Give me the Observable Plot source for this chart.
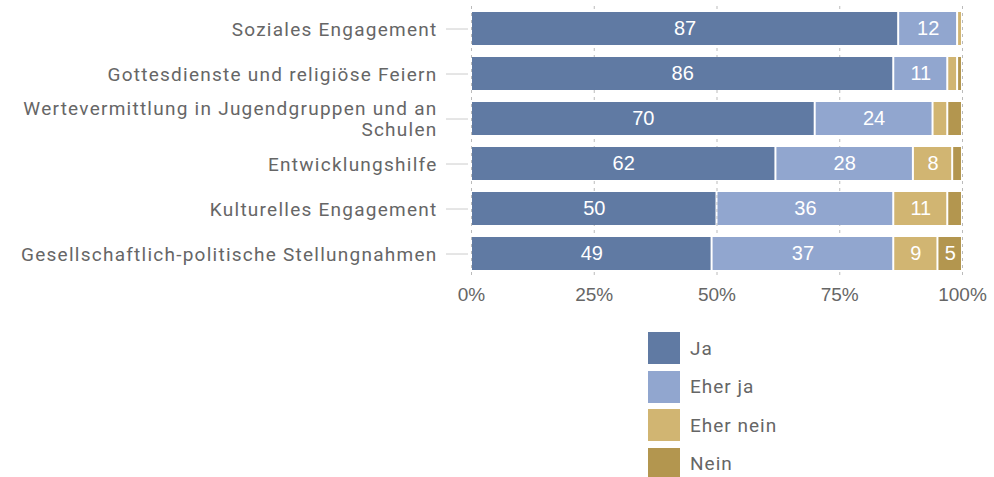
<!DOCTYPE html>
<html>
<head>
<meta charset="utf-8">
<script src="https://cdn.jsdelivr.net/npm/d3@7"></script>
<script src="https://cdn.jsdelivr.net/npm/@observablehq/plot@0.6"></script>
<style>
  body { margin: 0; background: #fff; font-family: Roboto, "Noto Sans", sans-serif; }
  #legend { margin-left: 648px; margin-top: 12px; display: grid; row-gap: 6.5px; }
  .item { display: flex; align-items: center; height: 32px; }
  .sw { width: 32px; height: 32px; margin-right: 10px; }
  .lbl { font-size: 19px; color: #666; letter-spacing: 1px; font-family: Roboto, sans-serif; }
  .c g[aria-label="y-axis tick label"] text { letter-spacing: 1.25px; }
</style>
</head>
<body>
<div id="chart"></div>
<div id="legend"></div>
<script>
const categories = [
  "Soziales Engagement",
  "Gottesdienste und religiöse Feiern",
  "Wertevermittlung in Jugendgruppen und an Schulen",
  "Entwicklungshilfe",
  "Kulturelles Engagement",
  "Gesellschaftlich-politische Stellungnahmen"
];
const seriesNames = ["Ja", "Eher ja", "Eher nein", "Nein"];
const ja       = [87, 86, 70, 62, 50, 49];
const eherJa   = [12, 11, 24, 28, 36, 37];
const eherNein = [1, 2, 3, 8, 11, 9];
const nein     = [0, 1, 3, 2, 3, 5];
const colors = ["#607aa3", "#91a6cf", "#d1b572", "#b3964f"];
const xTicks = [0, 25, 50, 75, 100];

const seriesValues = [ja, eherJa, eherNein, nein];
const data = [];
categories.forEach((c, i) => {
  seriesNames.forEach((s, j) => data.push({cat: c, series: s, value: seriesValues[j][i]}));
});

const labelMap = new Map([[categories[2], "Wertevermittlung in Jugendgruppen und an\nSchulen"]]);
const numFont = "'Liberation Sans', Arial, sans-serif";

const chart = Plot.plot({
  className: "c",
  width: 994,
  height: 320,
  marginLeft: 471,
  marginRight: 32,
  marginTop: 6,
  marginBottom: 44,
  style: {fontFamily: "Roboto, 'Noto Sans', sans-serif", fontSize: "19px", color: "#666"},
  x: {domain: [0, 100]},
  y: {domain: categories, paddingInner: 0.27, paddingOuter: 0.135, label: null},
  color: {domain: seriesNames, range: colors},
  marks: [
    Plot.gridX(xTicks, {stroke: "#bbb", strokeOpacity: 1, strokeDasharray: "3,4"}),
    Plot.barX(data, Plot.stackX({
      x: "value", y: "cat", fill: "series", order: seriesNames,
      insetLeft: 1, insetRight: 1
    })),
    Plot.text(data, Plot.stackX({
      x: "value", y: "cat", z: "series", order: seriesNames,
      text: d => d.value >= 5 ? String(d.value) : "",
      fill: "white", fontSize: 20, fontFamily: numFont
    })),
    Plot.axisY({
      tickSize: 22, tickPadding: 9, dx: -3, stroke: "#ccc", label: null,
      fill: "#666", fontSize: 19, tickFormat: d => labelMap.get(d) ?? d, lineHeight: 1.1
    }),
    Plot.axisX(xTicks, {
      tickSize: 0, tickPadding: 11, fill: "#666", fontSize: 19, fontFamily: numFont,
      tickFormat: d => d + "%", label: null
    })
  ]
});
document.getElementById("chart").appendChild(chart);

const legend = document.getElementById("legend");
seriesNames.forEach((s, i) => {
  const it = document.createElement("div");
  it.className = "item";
  it.innerHTML = `<div class="sw" style="background:${colors[i]}"></div><span class="lbl">${s}</span>`;
  legend.appendChild(it);
});
</script>
</body>
</html>
